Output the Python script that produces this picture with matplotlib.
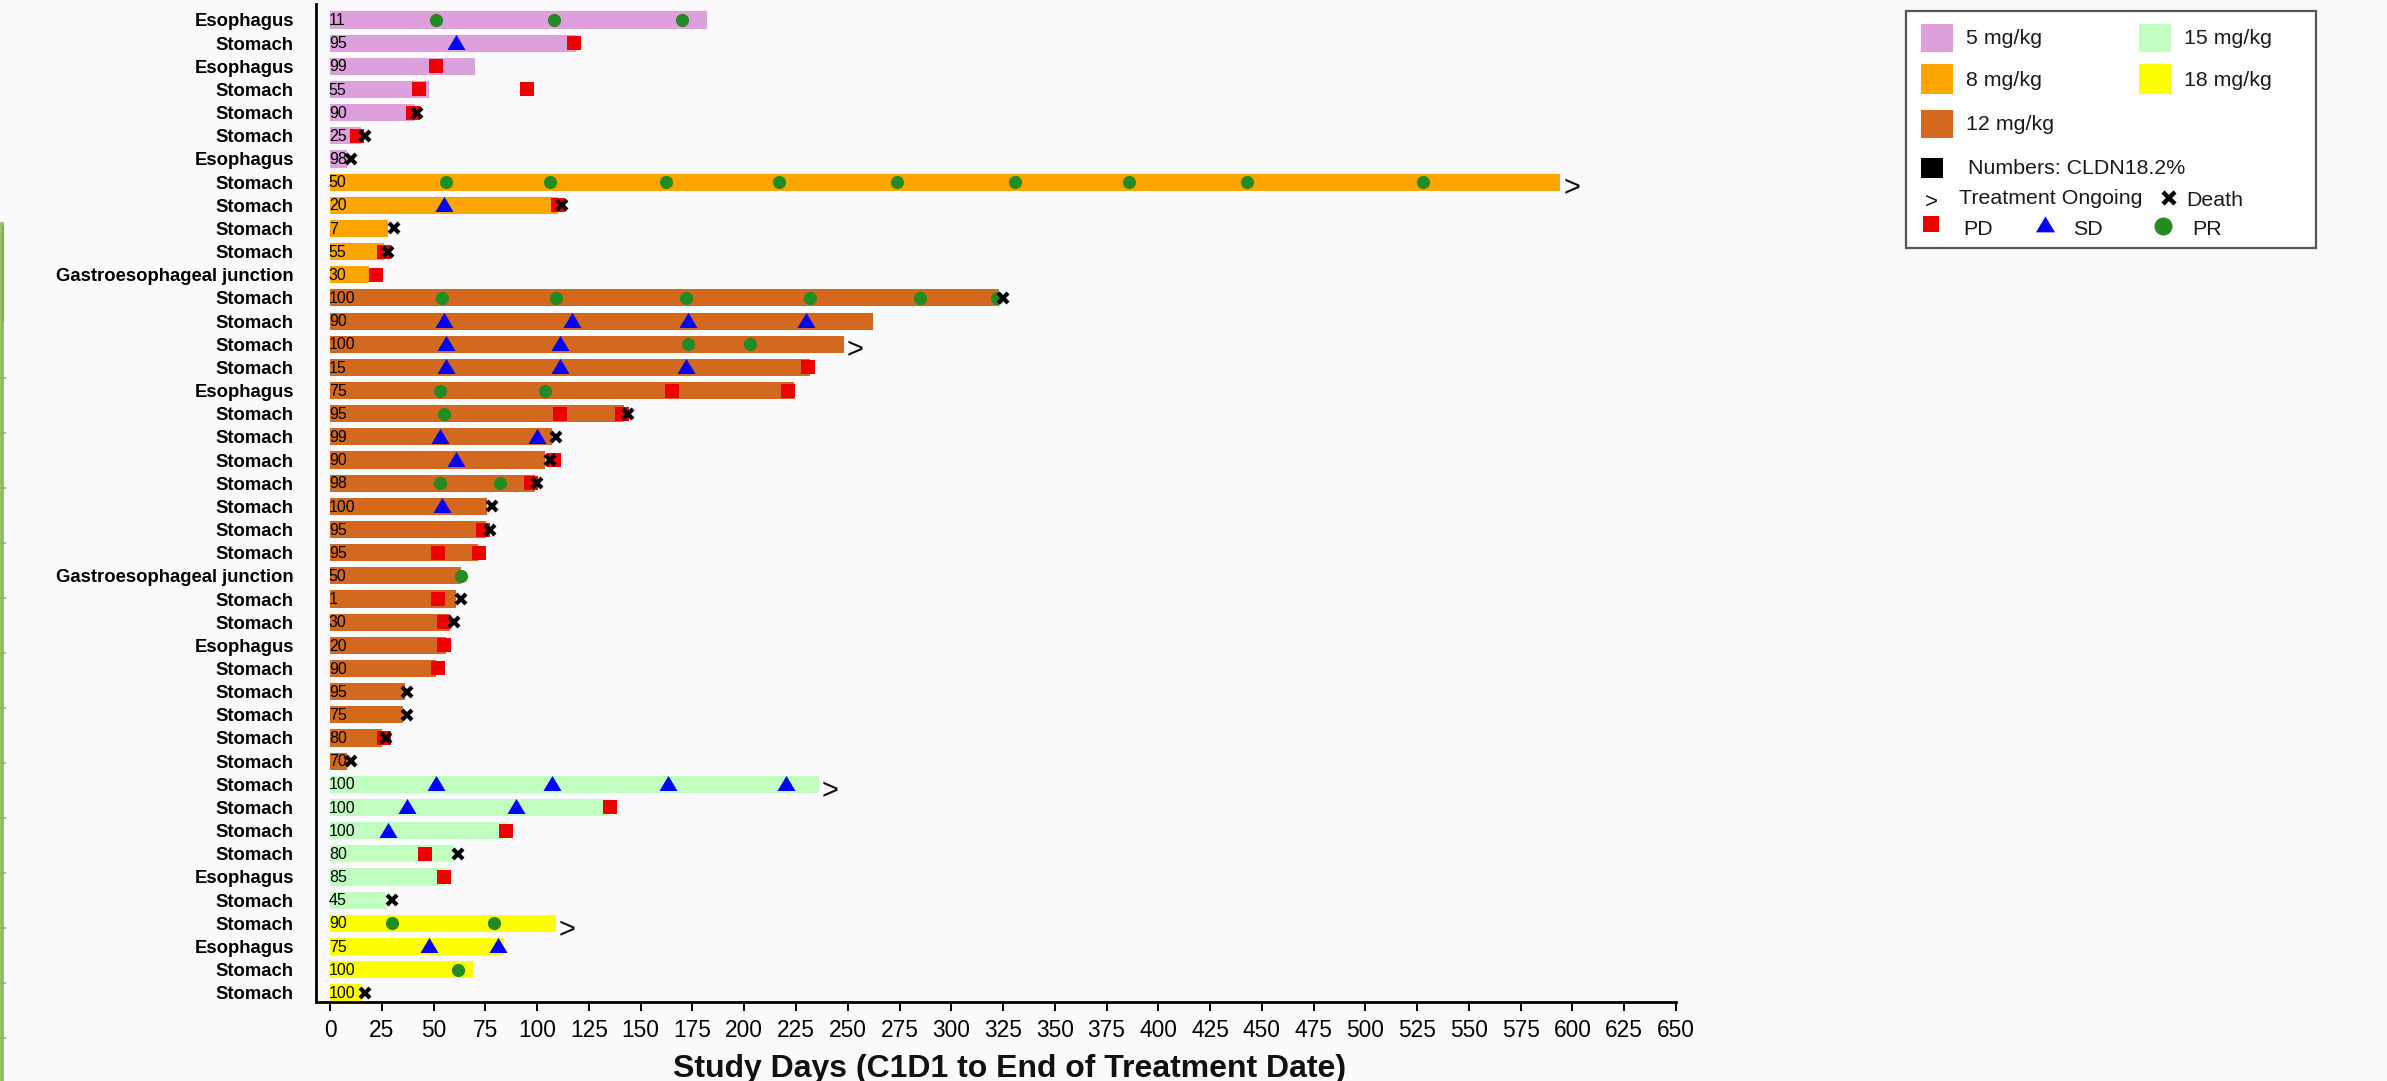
import matplotlib
matplotlib.use("Agg")
import matplotlib.pyplot as plt
from matplotlib.patches import Rectangle
from matplotlib.lines import Line2D
import numpy as np

plt.rcParams['font.family'] = ['Liberation Sans', 'DejaVu Sans']

# ---- patient data (one entry per swimmer lane, top to bottom) ----
sites = ["Esophagus", "Stomach", "Esophagus", "Stomach", "Stomach", "Stomach", "Esophagus",
         "Stomach", "Stomach", "Stomach", "Stomach", "Gastroesophageal junction",
         "Stomach", "Stomach", "Stomach", "Stomach", "Esophagus", "Stomach", "Stomach",
         "Stomach", "Stomach", "Stomach", "Stomach", "Stomach", "Gastroesophageal junction",
         "Stomach", "Stomach", "Esophagus", "Stomach", "Stomach", "Stomach", "Stomach",
         "Stomach", "Stomach", "Stomach", "Stomach", "Stomach", "Esophagus", "Stomach",
         "Stomach", "Esophagus", "Stomach", "Stomach"]

cldn = [11, 95, 99, 55, 90, 25, 98,
        50, 20, 7, 55, 30,
        100, 90, 100, 15, 75, 95, 99, 90, 98, 100, 95, 95, 50, 1, 30, 20, 90, 95, 75, 80, 70,
        100, 100, 100, 80, 85, 45,
        90, 75, 100, 100]

doses = ["5 mg/kg"] * 7 + ["8 mg/kg"] * 5 + ["12 mg/kg"] * 21 + ["15 mg/kg"] * 6 + ["18 mg/kg"] * 4

duration = [182, 119, 70, 48, 41, 15, 8,
            594, 110, 28, 26, 19,
            323, 262, 248, 232, 224, 142, 107, 104, 99, 76, 75.5, 71.5, 63, 61, 58, 56, 51,
            36, 35, 25, 8,
            236, 135, 86, 60, 56, 27,
            109, 84, 69, 15.5]

pd_days = [[], [118], [51], [43, 95], [40], [13], [],
           [], [110], [], [26], [22],
           [], [], [], [231], [165, 221], [111, 141], [], [108], [97], [], [74], [52, 72], [],
           [52], [55], [55], [52], [], [], [26], [],
           [], [135], [85], [46], [55], [],
           [], [], [], []]

sd_days = [[], [61], [], [], [], [], [],
           [], [55], [], [], [],
           [], [55, 117, 173, 230], [56, 111], [56, 111, 172], [], [], [53, 100], [61], [], [54],
           [], [], [], [], [], [], [], [], [], [], [],
           [51, 107, 163, 220], [37, 90], [28], [], [], [],
           [], [48, 81], [], []]

pr_days = [[51, 108, 170], [], [], [], [], [], [],
           [56, 106, 162, 217, 274, 331, 386, 443, 528], [], [], [], [],
           [54, 109, 172, 232, 285, 322], [], [173, 203], [], [53, 104], [55], [], [], [53, 82],
           [], [], [], [63], [], [], [], [], [], [], [], [],
           [], [], [], [], [], [],
           [30, 79], [], [62], []]

death_day = [None, None, None, None, 42, 17, 10,
             None, 112, 31, 28, None,
             325, None, None, None, None, 144, 109, 106, 100, 78, 77, None, None, 63, 60, None,
             None, 37, 37, 27, 10,
             None, None, None, 62, None, 30,
             None, None, None, 17]

ongoing = [False] * 7 + [True, False, False, False, False] + \
          [False, False, True] + [False] * 18 + [True] + [False] * 5 + [True, False, False, False]

dose_labels = ["5 mg/kg", "8 mg/kg", "12 mg/kg", "15 mg/kg", "18 mg/kg"]
dose_colors = {"5 mg/kg": "#DDA0DD", "8 mg/kg": "#FFA500", "12 mg/kg": "#D2691E",
               "15 mg/kg": "#C1FFC1", "18 mg/kg": "#FFFF00"}
PD_COLOR, SD_COLOR, PR_COLOR = "#EE0000", "#0000FF", "#228B22"

# squat triangle used for the stable-disease marker
tri = [(0, 0.95), (-1, -0.72), (1, -0.72), (0, 0.95)]

W, H = 2387, 1081
fig = plt.figure(figsize=(W / 100, H / 100), dpi=100, facecolor="#FAFAFD")


def fx(px):
    return px / W


def fy(py):
    return 1 - py / H


ax = fig.add_axes([fx(316), fy(1002), fx(1676) - fx(316), fy(4) - fy(1002)])
ax.set_facecolor("none")

n = len(sites)
rows = np.arange(n)
ax.barh(rows, duration, left=0, height=0.74,
        color=[dose_colors[d] for d in doses], zorder=2)

for i in range(n):
    ax.text(-0.6, i + 0.03, str(cldn[i]), ha="left", va="center", fontsize=11.5,
            color="black", zorder=6)
    if pd_days[i]:
        ax.plot(pd_days[i], [i] * len(pd_days[i]), "s", color=PD_COLOR, ms=10, mew=0, zorder=3)
    if sd_days[i]:
        ax.plot(sd_days[i], [i] * len(sd_days[i]), marker=tri, ls="none", color=SD_COLOR,
                ms=13, mew=0, zorder=3)
    if pr_days[i]:
        ax.plot(pr_days[i], [i] * len(pr_days[i]), "o", color=PR_COLOR, ms=9.5, mew=0, zorder=3)
    if death_day[i] is not None:
        ax.plot([death_day[i]], [i], "x", color="black", ms=7.5, mew=3, zorder=5)
    if ongoing[i]:
        ax.text(duration[i] + 1.5, i + 0.28, ">", ha="left", va="center", fontsize=21,
                color="#111111", zorder=6)

ax.set_xlim(-6.8, 650)
ax.set_ylim(42.4, -0.69)
ax.set_xticks(np.arange(0, 651, 25))
ax.set_yticks(rows)
ax.set_yticklabels(sites, fontweight="bold", fontsize=13.3)
ax.tick_params(axis="y", length=0, pad=16)
ax.tick_params(axis="x", direction="out", length=6.5, width=1.4, labelsize=16.4, pad=6)
for s in ("top", "right"):
    ax.spines[s].set_visible(False)
for s in ("left", "bottom"):
    ax.spines[s].set_linewidth(2)
    ax.spines[s].set_color("black")

fig.text(fx(1010), fy(1077), "Study Days (C1D1 to End of Treatment Date)", ha="center",
         va="baseline", fontsize=23, fontweight="bold", color="#111111")

# ---- overlay in pixel coordinates for the legend box and slide edge ----
ov = fig.add_axes([0, 0, 1, 1], zorder=10)
ov.set_xlim(0, W)
ov.set_ylim(H, 0)
ov.axis("off")
ov.patch.set_alpha(0)

# left slide edge strip
ov.add_line(Line2D([2, 2], [224, H], color="#86BD55", lw=2.6))
ov.add_patch(Rectangle((1, 226), 2.5, 96, facecolor="#1F3864", edgecolor="none"))
for yy in np.arange(378, H, 55):
    ov.add_line(Line2D([0, 5], [yy, yy], color="#86BD55", lw=1.2))

# legend frame
ov.add_patch(Rectangle((1906, 11), 410, 237, facecolor="white", edgecolor="#555555", lw=1.6))
leg_fs = 15.4
swatches = {"5 mg/kg": (1921, 24, 52), "8 mg/kg": (1921, 64, 94), "12 mg/kg": (1921, 110, 138),
            "15 mg/kg": (2139, 24, 52), "18 mg/kg": (2139, 64, 94)}
for lab in dose_labels:
    x0, y0, y1 = swatches[lab]
    ov.add_patch(Rectangle((x0, y0), 32, y1 - y0, facecolor=dose_colors[lab], edgecolor="none"))
    ov.text(x0 + 45, (y0 + y1) / 2 + 1, lab, ha="left", va="center", fontsize=leg_fs,
            color="#1a1a1a")

ov.add_patch(Rectangle((1921, 158), 22, 20, facecolor="black", edgecolor="none"))
ov.text(1968, 169, "Numbers: CLDN18.2%", ha="left", va="center", fontsize=leg_fs, color="#1a1a1a")

ov.text(1925, 202, ">", ha="left", va="center", fontsize=16, color="#1a1a1a")
ov.text(1959, 199, "Treatment Ongoing", ha="left", va="center", fontsize=leg_fs, color="#1a1a1a")
ov.plot([2169], [198], "x", color="black", ms=8.5, mew=3.2)
ov.text(2186, 200, "Death", ha="left", va="center", fontsize=leg_fs, color="#1a1a1a")

ov.plot([1931], [224], "s", color=PD_COLOR, ms=11.5, mew=0)
ov.text(1963, 229.5, "PD", ha="left", va="center", fontsize=leg_fs, color="#1a1a1a")
ov.plot([2045], [224.5], marker=tri, ls="none", color=SD_COLOR, ms=13.7, mew=0)
ov.text(2073, 229.5, "SD", ha="left", va="center", fontsize=leg_fs, color="#1a1a1a")
ov.plot([2163], [226], "o", color=PR_COLOR, ms=13, mew=0)
ov.text(2192, 229.5, "PR", ha="left", va="center", fontsize=leg_fs, color="#1a1a1a")

fig.savefig("out.png", dpi=100, facecolor=fig.get_facecolor())
